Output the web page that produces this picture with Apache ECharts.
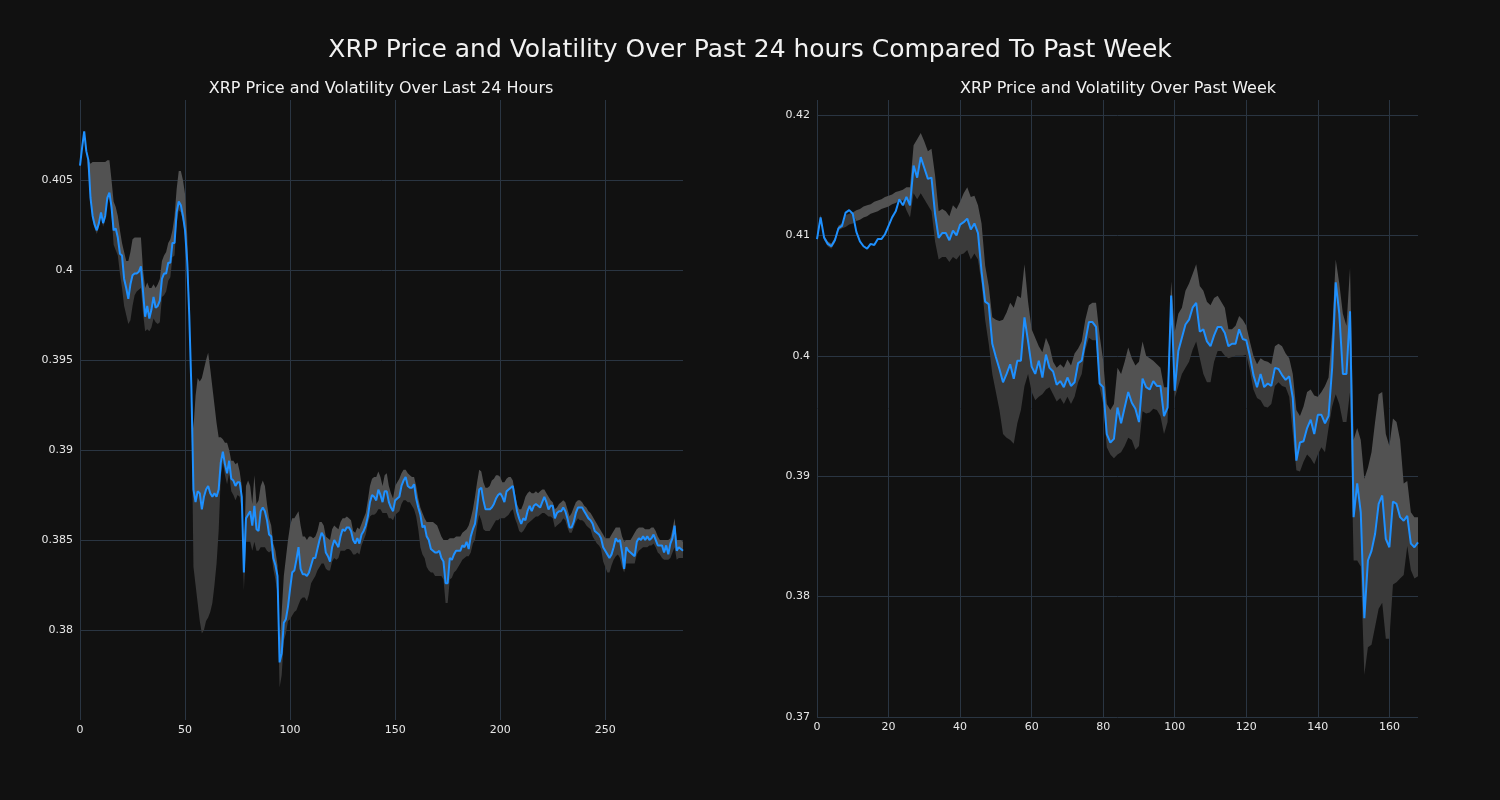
<!DOCTYPE html>
<html><head><meta charset="utf-8">
<script src="https://cdn.jsdelivr.net/npm/echarts@6/dist/echarts.min.js"></script>
<style>html,body{margin:0;padding:0;background:#111111;}#c{width:1500px;height:800px;}</style>
</head><body><div id="c"></div>
<script>
// ---- 24h (5-minute) data ----
const dayPrice = [
0.4058,0.4068,0.4077,0.4066,0.4061,0.4040,0.4030,0.4025,0.4022,0.4026,
0.4032,0.4026,0.4030,0.4040,0.4043,0.4035,0.4022,0.4023,0.4018,0.4009,
0.4008,0.3995,0.3990,0.3984,0.3992,0.3997,0.3998,0.3998,0.3999,0.4002,
0.3988,0.3974,0.3980,0.3973,0.3978,0.3985,0.3979,0.3980,0.3983,0.3995,
0.3998,0.3998,0.4004,0.4004,0.4015,0.4015,0.4032,0.4038,0.4036,0.4030,
0.4022,0.4005,0.3975,0.3935,0.3878,0.3871,0.3877,0.3876,0.3867,0.3874,
0.3878,0.3880,0.3876,0.3874,0.3876,0.3874,0.3878,0.3893,0.3899,0.3892,
0.3887,0.3894,0.3884,0.3883,0.3880,0.3882,0.3882,0.3874,0.3832,0.3862,
0.3864,0.3866,0.3858,0.3869,0.3856,0.3855,0.3866,0.3868,0.3866,0.3861,
0.3853,0.3852,0.3840,0.3836,0.3830,0.3782,0.3787,0.3804,0.3806,0.3813,
0.3823,0.3832,0.3833,0.3839,0.3846,0.3834,0.3831,0.3831,0.3830,0.3832,
0.3836,0.3840,0.3840,0.3845,0.3850,0.3854,0.3852,0.3843,0.3841,0.3838,
0.3846,0.3850,0.3848,0.3846,0.3852,0.3856,0.3855,0.3857,0.3857,0.3855,
0.3850,0.3848,0.3851,0.3848,0.3853,0.3855,0.3858,0.3863,0.3871,0.3875,
0.3874,0.3872,0.3878,0.3875,0.3871,0.3877,0.3877,0.3871,0.3868,0.3866,
0.3872,0.3873,0.3874,0.3880,0.3883,0.3885,0.3880,0.3879,0.3879,0.3881,
0.3873,0.3868,0.3864,0.3857,0.3858,0.3852,0.3850,0.3845,0.3844,0.3843,
0.3843,0.3844,0.3840,0.3838,0.3826,0.3826,0.3840,0.3839,0.3842,0.3844,
0.3844,0.3844,0.3847,0.3846,0.3849,0.3845,0.3852,0.3856,0.3859,0.3868,
0.3878,0.3879,0.3872,0.3867,0.3867,0.3867,0.3868,0.3870,0.3873,0.3875,
0.3876,0.3874,0.3871,0.3877,0.3878,0.3879,0.3880,0.3873,0.3866,0.3862,
0.3859,0.3862,0.3861,0.3866,0.3869,0.3866,0.3869,0.3870,0.3869,0.3868,
0.3871,0.3874,0.3871,0.3867,0.3869,0.3869,0.3862,0.3865,0.3866,0.3866,
0.3868,0.3866,0.3862,0.3857,0.3857,0.3860,0.3865,0.3868,0.3868,0.3868,
0.3866,0.3864,0.3862,0.3861,0.3859,0.3855,0.3854,0.3853,0.3851,0.3846,
0.3844,0.3842,0.3840,0.3842,0.3846,0.3851,0.3849,0.3850,0.3843,0.3834,
0.3846,0.3844,0.3843,0.3842,0.3841,0.3849,0.3851,0.3850,0.3852,0.3850,
0.3852,0.3850,0.3851,0.3853,0.3850,0.3847,0.3847,0.3847,0.3843,0.3847,
0.3842,0.3848,0.3851,0.3858,0.3844,0.3846,0.3845,0.3844];
// volatility band extent above / below price, in units of 0.0001
const dayBandUp = [
0,0,0,0,0,19,30,35,38,34, 28,34,30,21,18,15,16,12,12,13, 7,15,15,21,18,20,20,20,19,16,
12,16,13,17,12,7,11,12,12,10, 10,12,11,13,7,15,13,17,19,20, 20,15,10,0,34,59,63,62,73,71,
72,74,69,61,49,41,29,14,7,12, 17,6,10,11,12,11,6,6,10,18, 19,14,12,17,14,17,14,15,14,9,
9,6,8,8,6,8,23,26,34,37, 35,30,29,25,20,24,21,21,20,20, 16,11,12,10,10,6,6,9,10,12,
10,8,9,10,8,6,7,6,5,6, 5,6,6,8,6,7,7,9,9,9, 11,13,10,10,9,9,10,9,8,7,
8,9,10,7,6,4,7,7,6,4, 7,5,4,8,4,8,10,15,16,16, 15,11,12,12,24,24,11,12,9,8,
8,8,7,9,7,13,10,11,15,14, 11,9,10,12,12,13,15,14,13,11, 9,8,11,7,7,6,3,3,4,5,
8,8,13,10,8,10,7,7,7,9, 7,4,5,7,3,2,5,3,4,5, 4,5,5,6,8,8,6,4,4,3,
3,4,4,4,4,6,5,4,4,7, 7,9,11,11,9,6,8,7,9,15, 4,6,7,10,13,7,6,7,5,6,
4,6,6,4,5,5,3,3,7,3, 8,3,5,4,6,4,5,5];
const dayBandDown = [
0,0,0,0,8,2,2,2,2,2, 2,2,2,2,3,4,8,12,10,11, 18,15,15,14,20,17,12,10,10,12,
12,8,13,7,10,12,8,10,12,10, 12,10,10,8,8,7,6,5,4,3, 3,3,3,5,43,46,62,71,69,74,
73,73,66,59,51,37,23,8,6,6, 6,7,7,8,8,7,8,8,10,13, 15,17,14,20,12,11,20,22,20,17,
10,8,6,8,10,14,12,10,8,8, 17,24,23,28,32,17,13,13,14,12, 10,12,10,12,15,17,15,9,8,5,
8,10,9,6,8,12,11,12,12,11, 8,6,8,6,6,5,5,4,8,11, 10,7,11,8,6,12,12,9,6,5,
8,8,8,10,11,13,9,8,10,14, 10,12,18,15,18,17,17,13,12,13, 13,14,10,10,11,11,12,10,10,11,
9,7,8,6,8,4,9,8,9,10, 14,18,16,12,12,12,11,11,12,14, 14,12,9,14,14,13,13,11,7,7,
5,7,4,7,9,5,7,7,6,4, 6,9,7,4,6,7,5,7,7,6, 6,5,5,3,3,3,5,6,7,7,
6,6,5,5,7,5,6,6,6,8, 9,10,8,6,7,10,7,10,8,2, 9,7,6,5,4,7,7,5,6,4,
6,3,4,5,4,4,5,7,4,8, 3,8,8,12,5,6,5,4];

// ---- week (hourly) data ----
const weekPrice = [
0.4097,0.4115,0.4098,0.4093,0.4091,0.4096,0.4106,0.4108,0.4119,0.4121,
0.4118,0.4103,0.4095,0.4091,0.4089,0.4093,0.4092,0.4097,0.4097,0.4101,
0.4108,0.4115,0.4120,0.4130,0.4125,0.4132,0.4125,0.4158,0.4148,0.4165,
0.4156,0.4147,0.4148,0.4118,0.4098,0.4102,0.4102,0.4096,0.4104,0.4100,
0.4109,0.4111,0.4114,0.4105,0.4110,0.4102,0.4070,0.4045,0.4043,0.4010,
0.3999,0.3989,0.3978,0.3985,0.3993,0.3981,0.3996,0.3996,0.4032,0.4012,
0.3991,0.3985,0.3996,0.3982,0.4001,0.3990,0.3987,0.3976,0.3979,0.3974,
0.3982,0.3975,0.3978,0.3994,0.3996,0.4012,0.4028,0.4028,0.4024,0.3977,
0.3974,0.3935,0.3928,0.3931,0.3957,0.3944,0.3957,0.3970,0.3961,0.3956,
0.3945,0.3981,0.3974,0.3972,0.3979,0.3975,0.3975,0.3950,0.3957,0.4050,
0.3971,0.4004,0.4015,0.4026,0.4030,0.4040,0.4044,0.4020,0.4022,0.4012,
0.4008,0.4017,0.4024,0.4024,0.4019,0.4008,0.4010,0.4010,0.4022,0.4014,
0.4013,0.4000,0.3984,0.3974,0.3985,0.3974,0.3977,0.3975,0.3990,0.3989,
0.3984,0.3980,0.3983,0.3965,0.3913,0.3928,0.3929,0.3940,0.3947,0.3935,
0.3951,0.3951,0.3944,0.3950,0.3990,0.4061,0.4035,0.3985,0.3985,0.4037,
0.3866,0.3894,0.3870,0.3782,0.3830,0.3838,0.3852,0.3877,0.3884,0.3848,
0.3841,0.3879,0.3877,0.3866,0.3863,0.3867,0.3844,0.3841,0.3845];
const weekBandUp = [
2,2,2,2,2,2,2,2,-2,-3, 1,18,27,33,36,33,36,32,33,31, 25,19,16,7,13,8,15,17,32,20,
22,23,24,32,22,20,18,20,21,22, 19,24,26,27,23,23,40,30,15,22, 31,40,52,51,51,59,54,52,44,33,
31,30,12,21,14,18,8,14,14,16, 15,17,24,12,16,18,14,16,20,40, 22,25,27,29,33,41,38,37,37,36,
50,31,26,26,17,18,15,24,17,12, 49,31,25,28,30,28,32,38,32,33, 34,31,26,21,21,14,12,15,11,16,
12,12,16,19,13,22,18,18,18,21, 24,22,15,20,42,22,29,30,25,32, 15,19,31,32,30,19,25,50,40,36,
64,46,60,116,77,82,93,91,86,87, 84,69,68,64,31,29,26,25,21];
const weekBandDown = [
2,2,2,2,2,2,2,2,12,12, 8,-9,-18,-24,-27,-25,-27,-23,-25,-22, -16,-11,-7,2,-4,11,10,23,18,30,
26,22,28,23,18,20,20,18,22,20, 25,26,26,25,25,22,10,15,33,25, 29,34,43,53,63,54,52,41,57,27,
21,22,30,14,29,16,19,14,14,14, 16,15,12,16,11,7,13,15,11,3, 14,11,10,16,39,24,32,38,31,34,
20,27,22,19,23,20,25,15,12,10, 6,29,30,36,35,35,32,22,37,34, 30,22,20,20,19,10,11,10,22,14,
12,12,12,9,22,16,20,15,15,11, 9,6,17,30,8,24,17,22,32,25, 33,27,24,10,32,93,75,40,40,67,
36,64,45,47,72,78,77,87,89,83, 76,69,65,51,45,25,22,26,28];

const mainTitle = 'XRP Price and Volatility Over Past 24 hours Compared To Past Week';
const leftTitle = 'XRP Price and Volatility Over Last 24 Hours';
const rightTitle = 'XRP Price and Volatility Over Past Week';

const dayLabels = dayPrice.map((_, i) => String(i));
const weekLabels = weekPrice.map((_, i) => String(i));

const GRID = '#2a3542';
const TXT = '#e8e8e8';
const FONT = '"DejaVu Sans", sans-serif';

function bandSeries(price, up, down, xi, yi, name) {
  const lo = [], dark = [], light = [];
  price.forEach((p, i) => {
    const U = p + up[i] * 1e-4, L = p - down[i] * 1e-4;
    const mid = Math.max(L, Math.min(p, U));
    lo.push(L); dark.push(mid - L); light.push(U - mid);
  });
  const common = {type: 'line', xAxisIndex: xi, yAxisIndex: yi, stack: name, symbol: 'none',
    silent: true, lineStyle: {width: 0, opacity: 0}, z: 2};
  return [
    Object.assign({}, common, {data: lo}),
    Object.assign({}, common, {data: dark, areaStyle: {color: '#3a3a3a', opacity: 1}}),
    Object.assign({}, common, {data: light, areaStyle: {color: '#525252', opacity: 1}})
  ];
}

function yFmt(step) {
  return function (v) {
    const r = Math.round(v / step);
    if (Math.abs(v - r * step) > 1e-7) return '';
    return String(+v.toFixed(4));
  };
}

function xAxisCfg(gi, labels, every) {
  return {
    type: 'category', gridIndex: gi, data: labels, boundaryGap: false,
    axisLine: {show: false}, axisTick: {show: false},
    axisLabel: {interval: every - 1, color: TXT, fontSize: 11, fontFamily: FONT, margin: 5},
    splitLine: {show: true, interval: every - 1, lineStyle: {color: GRID, width: 1}}
  };
}

function yAxisCfg(gi, min, max, step, showMin) {
  return {
    type: 'value', gridIndex: gi, min: min, max: max, interval: step,
    axisLine: {show: false}, axisTick: {show: false},
    axisLabel: {color: TXT, fontSize: 11, fontFamily: FONT, margin: 7, formatter: yFmt(step),
                showMaxLabel: false, showMinLabel: showMin},
    splitLine: {show: true, showMinLine: showMin, showMaxLine: false, lineStyle: {color: GRID, width: 1}}
  };
}

const chart = echarts.init(document.getElementById('c'), null, {renderer: 'canvas'});
chart.setOption({
  backgroundColor: '#111111',
  animation: false,
  graphic: [
    {type: 'text', x: 750, y: 50, style: {text: mainTitle, fill: '#f2f2f2', font: '25px ' + FONT, align: 'center', verticalAlign: 'middle'}},
    {type: 'text', x: 381, y: 89, style: {text: leftTitle, fill: '#f2f2f2', font: '16px ' + FONT, align: 'center', verticalAlign: 'middle'}},
    {type: 'text', x: 1118, y: 89, style: {text: rightTitle, fill: '#f2f2f2', font: '16px ' + FONT, align: 'center', verticalAlign: 'middle'}}
  ],
  grid: [
    {left: 80, right: 817, top: 100, bottom: 80},
    {left: 817, right: 82, top: 100, bottom: 83}
  ],
  xAxis: [xAxisCfg(0, dayLabels, 50), xAxisCfg(1, weekLabels, 20)],
  yAxis: [yAxisCfg(0, 0.375, 0.40944, 0.005, false), yAxisCfg(1, 0.37, 0.42125, 0.01, true)],
  series: [].concat(
    bandSeries(dayPrice, dayBandUp, dayBandDown, 0, 0, 'dayBand'),
    bandSeries(weekPrice, weekBandUp, weekBandDown, 1, 1, 'weekBand'),
    [
      {type: 'line', xAxisIndex: 0, yAxisIndex: 0, data: dayPrice, symbol: 'none', silent: true, z: 5,
       lineStyle: {color: '#1e90ff', width: 2}},
      {type: 'line', xAxisIndex: 1, yAxisIndex: 1, data: weekPrice, symbol: 'none', silent: true, z: 5,
       lineStyle: {color: '#1e90ff', width: 2}}
    ]
  )
});
</script>
</body></html>
